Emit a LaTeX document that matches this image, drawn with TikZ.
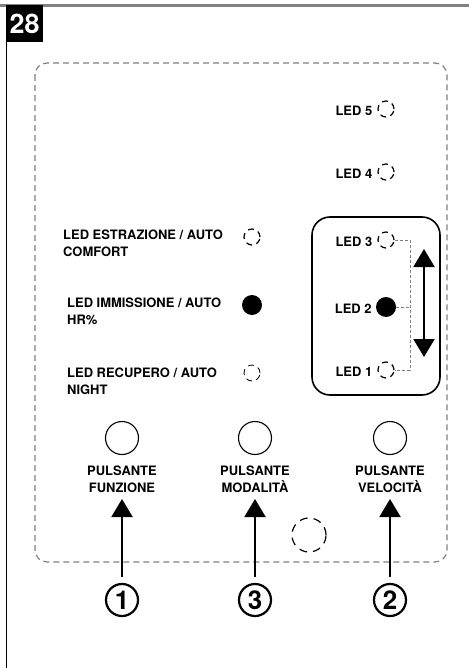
\documentclass[tikz,border=0pt]{standalone}
\usepackage{fontspec}
\setmainfont{TeX Gyre Heros}
\usetikzlibrary{arrows.meta,positioning}

\tikzset{
  lbl/.style={font=\fontsize{13}{17}\selectfont\bfseries,align=left,inner sep=0pt},
  ledoff/.style={circle,draw,line width=1.2bp,dash pattern=on 6bp off 4.5bp,minimum size=16bp,inner sep=0pt},
  ledon/.style={circle,fill=black,minimum size=20bp,inner sep=0pt},
  frame/.style={draw=gray,line width=1.2bp,dash pattern=on 6bp off 4bp},
  bracket/.style={draw=gray,line width=0.8bp,dash pattern=on 3bp off 2bp},
  button/.style={circle,draw,line width=1.1bp,minimum size=33bp,inner sep=0pt},
  numc/.style={circle,draw,line width=2.2bp,minimum size=32bp,inner sep=0pt,
    font=\fontsize{26}{26}\selectfont\bfseries},
  bigtip/.tip={Triangle[width=21bp,length=18bp]},
}

\begin{document}
\begin{tikzpicture}[x=1bp,y=-1bp]
  \useasboundingbox (0,0) rectangle (469,668);

  % cornice della figura
  \draw[gray,line width=2.2bp] (0,5.5) -- (469,5.5);
  \draw[line width=1.3bp] (6.5,5) -- (6.5,668);
  \node[fill=black,text=white,minimum size=37bp,inner sep=0pt,anchor=north west,
    font=\fontsize{27}{27}\selectfont\bfseries] (fig) at (6,5) {28};

  % pannello
  \draw[frame,rounded corners=12bp] (35,63) rectangle (447,562);
  \draw[line width=1.6bp,rounded corners=18bp] (312,217) rectangle (440,395);

  % led velocita
  \node[ledoff] (l5) at (386,109) {};
  \node[ledoff] (l4) at (386,172) {};
  \node[ledoff] (l3) at (386,240) {};
  \node[ledon]  (l2) at (386,307) {};
  \node[ledoff] (l1) at (386,370) {};
  \node[lbl,left=5bp of l5,yshift=-2bp] (t5) {LED 5};
  \node[lbl,left=5bp of l4,yshift=-2bp] (t4) {LED 4};
  \node[lbl,left=5bp of l3,yshift=-2bp] (t3) {LED 3};
  \node[lbl,left=4bp of l2,yshift=-2bp] (t2) {LED 2};
  \node[lbl,left=5bp of l1,yshift=-2bp] (t1) {LED 1};

  \coordinate (brk) at (410,0);
  \draw[bracket] (l3.east) -- (l3.east -| brk) -- (l1.east -| brk) -- (l1.east);
  \draw[bracket] (l2.east) -- (l2.east -| brk);

  \coordinate (su)  at (424,249);
  \coordinate (giu) at (424,357);
  \draw[line width=2bp,bigtip-bigtip] (su) -- (giu);

  % led funzione
  \node[ledoff] (lf1) at (252,237) {};
  \node[ledon]  (lf2) at (252,305) {};
  \node[ledoff,line width=0.8bp] (lf3) at (252,373) {};
  \node[lbl,anchor=north west] (tf1) at (63,229.5)  {LED ESTRAZIONE / AUTO\\COMFORT};
  \node[lbl,anchor=north west] (tf2) at (67,297.5)  {LED IMMISSIONE / AUTO\\HR\%};
  \node[lbl,anchor=north west] (tf3) at (67,367.5)  {LED RECUPERO / AUTO\\NIGHT};

  % pulsanti
  \foreach \i/\x/\n/\t in {1/122/1/FUNZIONE,2/255/3/MODALITÀ,3/390/2/VELOCITÀ}{
    \node[button] (p\i) at (\x,438) {};
    \node[lbl,align=center,below=11bp of p\i] (tp\i) {PULSANTE\\\t};
    \node[numc] (n\i) at (\x,600) {\n};
    \coordinate (a\i) at (\x,499);
    \draw[line width=2bp,-bigtip,shorten <=6bp] (n\i) -- (a\i);
  }

  \node[circle,draw,line width=1.2bp,dash pattern=on 8bp off 6bp,minimum size=34bp] (sens) at (309,535) {};
\end{tikzpicture}
\end{document}
